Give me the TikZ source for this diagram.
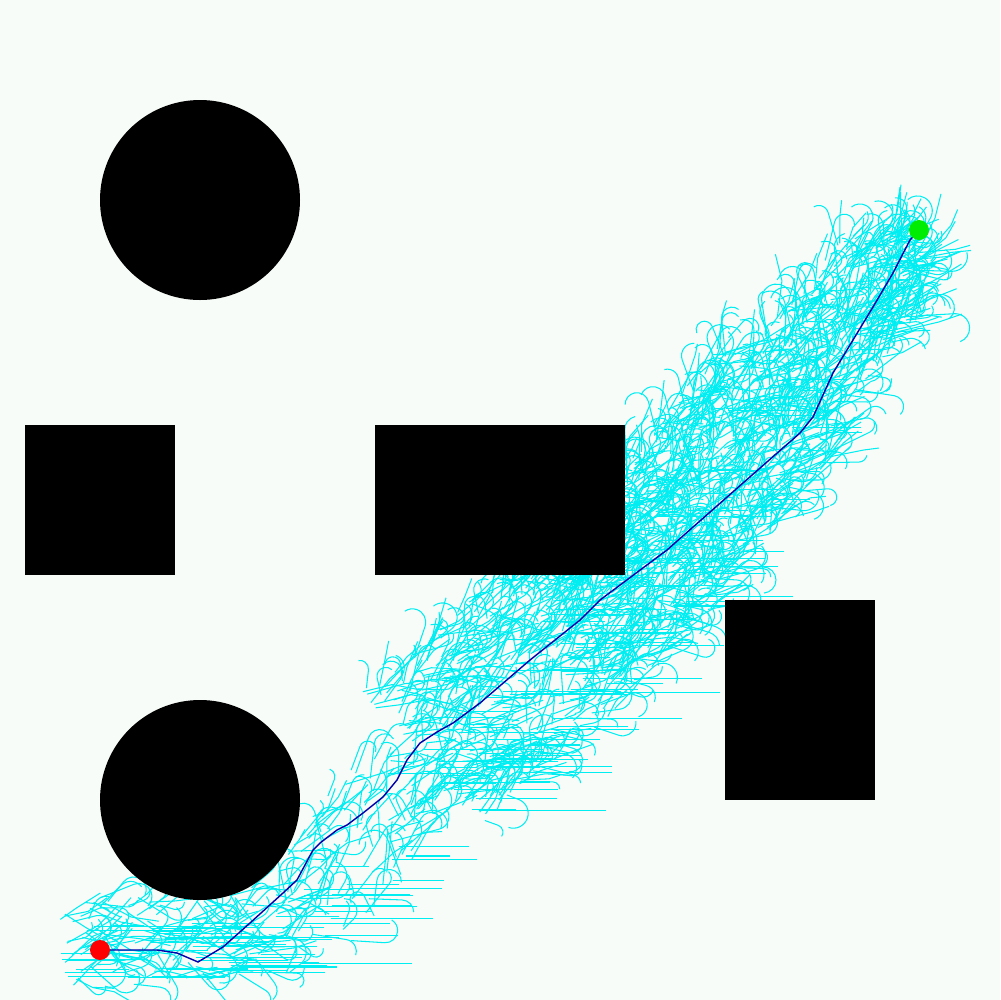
\documentclass[tikz,border=0pt]{standalone}
\definecolor{bgc}{RGB}{248,252,248}
\definecolor{treec}{RGB}{0,238,242}
\definecolor{pathc}{RGB}{0,0,170}
\definecolor{startc}{RGB}{255,0,0}
\definecolor{goalc}{RGB}{0,236,0}
\tikzset{
  treeline/.style={draw=treec, line width=0.3pt},
  obstacle/.style={fill=black},
  route/.style={draw=pathc, line width=0.4pt},
  marker/.style={circle, inner sep=0pt, minimum size=2mm},
}
\begin{document}
\begin{tikzpicture}[x=0.1mm, y=-0.1mm]
\fill[bgc] (0,0) rectangle (1000,1000);
\useasboundingbox (0,0) rectangle (1000,1000);
% ---------- tree ----------
\pgfmathsetseed{12345}
\foreach \ax/\ay/\bx/\by/\w/\nc/\ns/\nh/\hl in {
  60/945/300/928/45/100/60/40/100,
  300/928/420/760/55/70/45/20/90,
  420/760/560/640/90/210/130/40/100,
  560/640/680/520/85/320/170/30/90,
  680/520/790/385/80/280/140/10/50,
  790/385/890/265/55/190/100/0/0,
  890/265/912/245/25/25/25/0/0}{
  \pgfmathsetmacro\sdx{\bx-\ax}
  \pgfmathsetmacro\sdy{\by-\ay}
  \pgfmathsetmacro\segL{veclen(\sdx,\sdy)}
  \pgfmathsetmacro\snx{-\sdy/\segL}
  \pgfmathsetmacro\sny{\sdx/\segL}
  \pgfmathsetmacro\sdir{atan2(\sdy,\sdx)}
  % hooks
  \foreach \k in {1,...,\nc}{
    \pgfmathsetmacro\tS{rnd}
    \pgfmathsetmacro\tO{\w*rand}
    \pgfmathsetmacro\tX{\ax+\tS*\sdx+\tO*\snx}
    \pgfmathsetmacro\tY{\ay+\tS*\sdy+\tO*\sny}
    \pgfmathsetmacro\tA{\sdir+65*rand}
    \pgfmathsetmacro\tLen{12+30*rnd}
    \pgfmathsetmacro\tR{7+8*rnd}
    \pgfmathsetmacro\tT{(rnd<0.5) ? 1 : -1}
    \pgfmathsetmacro\tSA{\tA-90*\tT}
    \pgfmathsetmacro\tD{\tT*(70+120*rnd)}
    \draw[treeline] (\tX,\tY) -- ++(\tA:\tLen) arc[start angle=\tSA, delta angle=\tD, radius=\tR];
  }
  % strands
  \foreach \k in {1,...,\ns}{
    \pgfmathsetmacro\tS{rnd}
    \pgfmathsetmacro\tO{\w*rand}
    \pgfmathsetmacro\tX{\ax+\tS*\sdx+\tO*\snx}
    \pgfmathsetmacro\tY{\ay+\tS*\sdy+\tO*\sny}
    \pgfmathsetmacro\tA{\sdir+40*rand}
    \pgfmathsetmacro\tB{\tA+25*rand}
    \pgfmathsetmacro\tLen{15+30*rnd}
    \pgfmathsetmacro\tLb{10+20*rnd}
    \draw[treeline] (\tX,\tY) -- ++(\tA:\tLen) -- ++(\tB:\tLb);
  }
  % horizontal runs
  \ifnum\nh>0
  \foreach \k in {1,...,\nh}{
    \pgfmathsetmacro\tS{rnd}
    \pgfmathsetmacro\tO{\w*(1.3*rnd-0.4)}
    \pgfmathsetmacro\tX{\ax+\tS*\sdx+\tO*\snx}
    \pgfmathsetmacro\tY{\ay+\tS*\sdy+\tO*\sny}
    \pgfmathsetmacro\tH{30+\hl*rnd}
    \draw[treeline] (\tX,\tY) -- ++(\tH,0);
  }
  \fi
}
% ---------- obstacles ----------
\fill[obstacle] (200,200) circle[radius=100];
\fill[obstacle] (200,800) circle[radius=100];
\fill[obstacle] (25,425) rectangle (175,575);
\fill[obstacle] (375,425) rectangle (625,575);
\fill[obstacle] (725,600) rectangle (875,800);
% ---------- path ----------
\coordinate (startpt) at (100,950);
\coordinate (goalpt) at (919,230);
\draw[route] (startpt) -- (157,950) -- (177,953) -- (198,962) -- (223,947) -- (250,923)
  -- (283,893) -- (297,880) -- (313,850) -- (320,843) -- (337,830) -- (347,825)
  -- (363,813) -- (383,797) -- (397,780) -- (407,760) -- (420,743) -- (437,732)
  -- (453,723) -- (480,703) -- (530,660) -- (580,620) -- (600,600) -- (667,550)
  -- (743,483) -- (800,433) -- (813,417) -- (833,373) -- (853,340) -- (873,307)
  -- (893,273) -- (910,240) -- (goalpt);
\node[marker, fill=startc] (start) at (startpt) {};
\node[marker, fill=goalc] (goal) at (goalpt) {};
\end{tikzpicture}
\end{document}
